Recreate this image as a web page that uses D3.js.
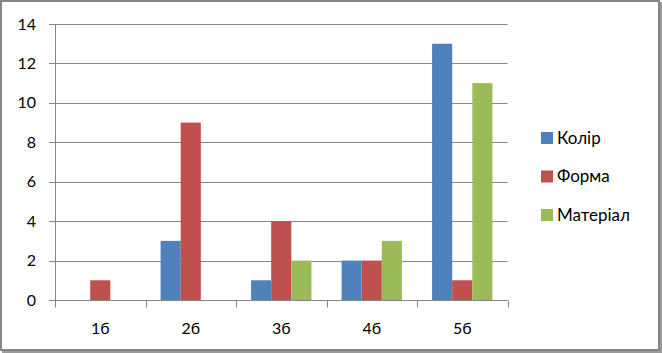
<!DOCTYPE html>
<html>
<head>
<meta charset="utf-8">
<script src="https://cdn.jsdelivr.net/npm/d3@7"></script>
<style>
  body { margin: 0; background: #fff; }
  svg { display: block; font-family: Lato, "Open Sans", sans-serif; }
</style>
</head>
<body>
<svg width="662" height="353"></svg>
<script>
var categories = ["1б", "2б", "3б", "4б", "5б"];
var seriesNames = ["Колір", "Форма", "Матеріал"];
var kolir = [0, 3, 1, 2, 13];
var forma = [1, 9, 4, 2, 1];
var material = [0, 0, 2, 3, 11];
var yTicks = [0, 2, 4, 6, 8, 10, 12, 14];
var colors = ["#4F81BD", "#C0504D", "#9BBB59"];

document.addEventListener("DOMContentLoaded", function () {
  var svg = d3.select("svg");
  var seriesValues = [kolir, forma, material];

  // chart frame with a light shadow on right/bottom
  svg.append("rect")
    .attr("x", 2).attr("y", 2)
    .attr("width", 660).attr("height", 351)
    .attr("fill", "#9a9a9a");
  svg.append("rect")
    .attr("x", 1).attr("y", 1)
    .attr("width", 658).attr("height", 349)
    .attr("fill", "#fff")
    .attr("stroke", "#868686")
    .attr("stroke-width", 2);

  var x = d3.scaleBand().domain(categories).range([55, 507.5]);
  var y = d3.scaleLinear().domain([0, 14]).range([300, 24]);
  var x1 = d3.scaleBand().domain(seriesNames)
    .range([0, x.bandwidth()]).paddingOuter(0.75).paddingInner(0);

  // gridlines
  svg.append("g")
    .selectAll("line")
    .data(yTicks)
    .enter()
    .append("line")
    .attr("x1", 49).attr("x2", 507.5)
    .attr("y1", function (d) { return Math.round(y(d)) + 0.5 })
    .attr("y2", function (d) { return Math.round(y(d)) + 0.5 })
    .attr("stroke", "#868686");

  // y axis line
  svg.append("line")
    .attr("x1", 55.5).attr("x2", 55.5)
    .attr("y1", y(14)).attr("y2", y(0))
    .attr("stroke", "#868686");

  svg.append("g")
    .selectAll("text")
    .data(yTicks)
    .enter()
    .append("text")
    .attr("x", 36)
    .attr("y", function (d) { return y(d) })
    .attr("dy", "0.35em")
    .attr("text-anchor", "end")
    .attr("font-size", 16)
    .text(function (d) { return d });

  // bars
  var groups = svg.append("g")
    .selectAll("g")
    .data(categories)
    .enter()
    .append("g")
    .attr("transform", function (d) { return "translate(" + x(d) + ",0)" });

  groups.selectAll("rect")
    .data(function (d, i) {
      return seriesNames.map(function (s, j) {
        return { s: s, v: seriesValues[j][i], c: colors[j] };
      });
    })
    .enter()
    .append("rect")
    .attr("x", function (d) { return x1(d.s) })
    .attr("width", x1.bandwidth())
    .attr("y", function (d) { return y(d.v) })
    .attr("height", function (d) { return y(0) - y(d.v) })
    .attr("fill", function (d) { return d.c });

  // x axis
  var xAxis = svg.append("g").attr("transform", "translate(0,300.5)");
  xAxis.append("line")
    .attr("x1", 49).attr("x2", 507.5)
    .attr("stroke", "#868686");
  xAxis.selectAll("line.tick")
    .data(categories.concat([null]))
    .enter()
    .append("line")
    .attr("class", "tick")
    .attr("x1", function (d, i) { return Math.round(55 + i * x.step()) + 0.5 })
    .attr("x2", function (d, i) { return Math.round(55 + i * x.step()) + 0.5 })
    .attr("y1", 0).attr("y2", 7)
    .attr("stroke", "#868686");
  xAxis.selectAll("text")
    .data(categories)
    .enter()
    .append("text")
    .attr("x", function (d) { return x(d) + x.bandwidth() / 2 })
    .attr("y", 33)
    .attr("text-anchor", "middle")
    .attr("font-size", 16)
    .text(function (d) { return d });

  // legend
  var legend = svg.append("g")
    .selectAll("g")
    .data(seriesNames)
    .enter()
    .append("g")
    .attr("transform", function (d, i) { return "translate(541," + (132 + i * 38.5) + ")" });
  legend.append("rect")
    .attr("width", 12).attr("height", 12)
    .attr("fill", function (d, i) { return colors[i] });
  legend.append("text")
    .attr("x", 16).attr("y", 6)
    .attr("dy", "0.35em")
    .attr("font-size", 17)
    .text(function (d) { return d });
});
</script>
</body>
</html>
